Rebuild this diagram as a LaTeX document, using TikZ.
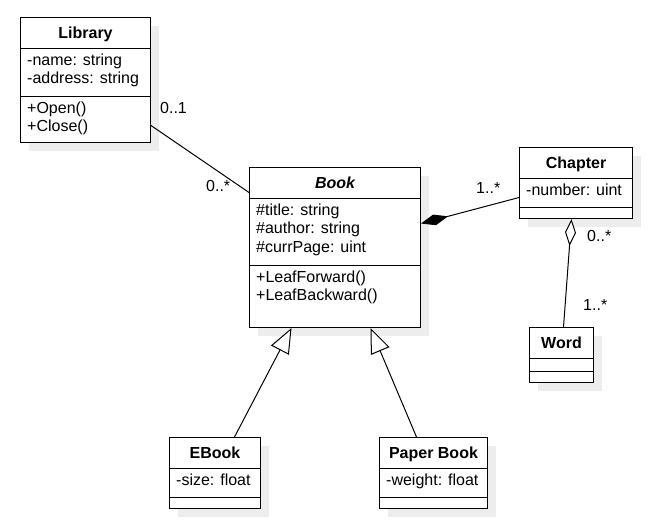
\documentclass[tikz,border=0pt]{standalone}
\usepackage{fontspec}
\setmainfont{Liberation Sans}
\usetikzlibrary{arrows.meta,shadows}

\newcommand{\umlfont}{\fontsize{16}{18.5}\selectfont}

\begin{document}
\begin{tikzpicture}[x=1pt, y=-1pt,
  every node/.style={font=\umlfont},
  umlclass/.style={draw, fill=white, line width=1pt, anchor=north west, inner sep=0pt,
    drop shadow={shadow xshift=8pt, shadow yshift=-8pt, fill=black!7, opacity=1}},
  classname/.style={anchor=base, font=\umlfont\bfseries},
  members/.style={anchor=base west, align=left, inner sep=0pt},
  mult/.style={anchor=base west, inner sep=0pt},
  link/.style={line width=1pt}]

\useasboundingbox (0,0) rectangle (660,528);

\node[umlclass, minimum width=130pt, minimum height=125pt] (library) at (20,17) {};
\draw[link] (library.north west) ++(0,31) -- ++(130,0);
\draw[link] (library.north west) ++(0,79) -- ++(130,0);
\node[classname] (libraryname) at ([yshift=-21pt]library.north) {Library};
\node[members] (libraryattr) at ([shift={(7pt,-66.5pt)}]library.north west) {-name: string\\-address: string};
\node[members] (libraryops) at ([shift={(7pt,-114.5pt)}]library.north west) {+Open()\\+Close()};

\node[umlclass, minimum width=171pt, minimum height=160pt] (book) at (249,167) {};
\draw[link] (book.north west) ++(0,31) -- ++(171,0);
\draw[link] (book.north west) ++(0,98) -- ++(171,0);
\node[classname, font=\umlfont\bfseries\itshape] (bookname) at ([yshift=-21pt]book.north) {Book};
\node[members] (bookattr) at ([shift={(7pt,-85pt)}]book.north west) {\#title: string\\\#author: string\\\#currPage: uint};
\node[members] (bookops) at ([shift={(7pt,-133.5pt)}]book.north west) {+LeafForward()\\+LeafBackward()};

\node[umlclass, minimum width=113pt, minimum height=71pt] (chapter) at (519,147) {};
\draw[link] (chapter.north west) ++(0,31) -- ++(113,0);
\draw[link] (chapter.north west) ++(0,60) -- ++(113,0);
\node[classname] (chaptername) at ([yshift=-21pt]chapter.north) {Chapter};
\node[members] (chapterattr) at ([shift={(7pt,-48pt)}]chapter.north west) {-number: uint};

\node[umlclass, minimum width=64pt, minimum height=55pt] (word) at (529,327) {};
\draw[link] (word.north west) ++(0,31) -- ++(64,0);
\draw[link] (word.north west) ++(0,44) -- ++(64,0);
\node[classname] (wordname) at ([yshift=-21pt]word.north) {Word};

\node[umlclass, minimum width=91pt, minimum height=71pt] (ebook) at (169,437) {};
\draw[link] (ebook.north west) ++(0,31) -- ++(91,0);
\draw[link] (ebook.north west) ++(0,60) -- ++(91,0);
\node[classname] (ebookname) at ([yshift=-21pt]ebook.north) {EBook};
\node[members] (ebookattr) at ([shift={(7pt,-48pt)}]ebook.north west) {-size: float};

\node[umlclass, minimum width=108pt, minimum height=71pt] (paperbook) at (379,437) {};
\draw[link] (paperbook.north west) ++(0,31) -- ++(108,0);
\draw[link] (paperbook.north west) ++(0,60) -- ++(108,0);
\node[classname] (paperbookname) at ([yshift=-21pt]paperbook.north) {Paper Book};
\node[members] (paperbookattr) at ([shift={(7pt,-48pt)}]paperbook.north west) {-weight: float};

\draw[link] ([yshift=-45.5pt]library.east) -- ([yshift=55pt]book.west);
\node[mult] (librarymult) at (160,113) {0..1};
\node[mult] (bookmult) at (206,191) {0..*};

\draw[link, {Diamond[length=28pt, width=11pt]}-] ([yshift=24pt]book.east) -- ([yshift=-14.5pt]chapter.west);
\node[mult] (chaptermult) at (476,193) {1..*};

\draw[link, {Diamond[open, length=27pt, width=11pt, fill=white]}-] ([xshift=-4.5pt]chapter.south) -- ([xshift=2pt]word.north);
\node[mult] (wordmultup) at (587,241) {0..*};
\node[mult] (wordmult) at (583,310) {1..*};

\draw[link, -{Triangle[open, length=25pt, width=20pt, fill=white]}] ([xshift=19.5pt]ebook.north) -- ([xshift=-43.5pt]book.south);
\draw[link, -{Triangle[open, length=25pt, width=20pt, fill=white]}] ([xshift=-17pt]paperbook.north) -- ([xshift=35.5pt]book.south);

\end{tikzpicture}
\end{document}
